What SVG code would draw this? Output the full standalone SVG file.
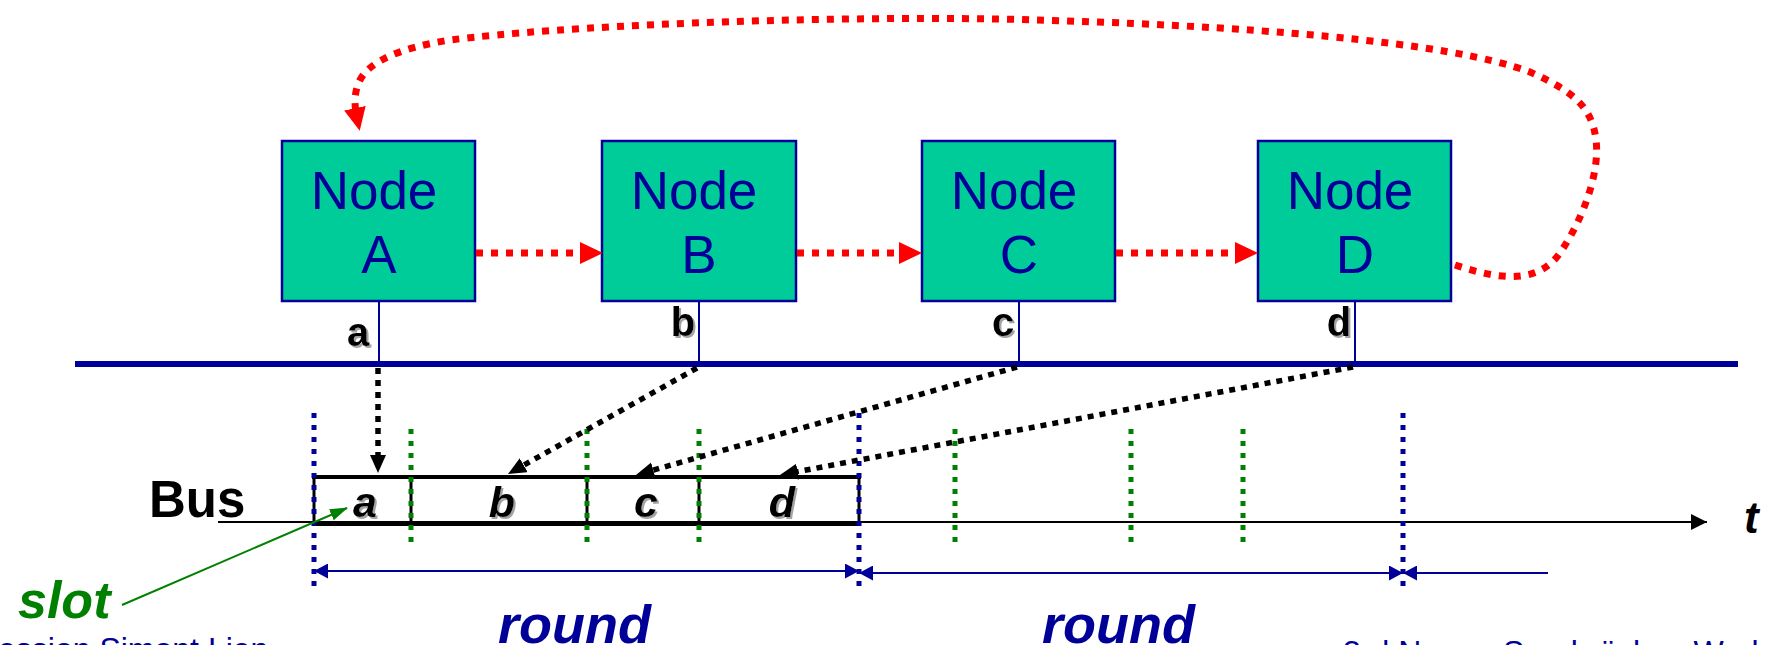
<svg xmlns="http://www.w3.org/2000/svg" width="1772" height="645" viewBox="0 0 1772 645">
<style>
.node rect{fill:#00CC99;stroke:#000099;stroke-width:2.5}
.nt{font-family:"Liberation Sans",Arial,sans-serif;font-size:53px;fill:#000099;text-anchor:middle}
.lbl{font-family:"Liberation Sans",Arial,sans-serif;font-size:40px;font-weight:bold;fill:#000;text-anchor:middle}
.sl{font-family:"Liberation Sans",Arial,sans-serif;font-size:43px;font-weight:bold;font-style:italic;fill:#000;text-anchor:middle}
.stem{stroke:#000099;stroke-width:2;fill:none}
.red{stroke:#FF0000;stroke-width:7;stroke-dasharray:7 8;fill:none}
.blk{stroke:#000;stroke-width:5.5;stroke-dasharray:6 6;fill:none}
.bdot{stroke:#000099;stroke-width:5;stroke-dasharray:5 7;fill:none}
.gdot{stroke:#008000;stroke-width:5;stroke-dasharray:5 7;fill:none}
.rnd{stroke:#000099;stroke-width:2;fill:none}
.big{font-family:"Liberation Sans",Arial,sans-serif;font-weight:bold;font-style:italic}
.foot{font-family:"Liberation Sans",Arial,sans-serif;font-size:32px;fill:#000099}
</style>
<defs>
<filter id="sh" x="-20%" y="-20%" width="150%" height="150%">
<feDropShadow dx="2" dy="2" stdDeviation="0.6" flood-color="#999999" flood-opacity="0.9"/>
</filter>
<marker id="ar" markerUnits="userSpaceOnUse" markerWidth="24" markerHeight="23" refX="10" refY="11" orient="auto" viewBox="0 0 24 23">
<path d="M0,0 L23,11 L0,22 z" fill="#FF0000"/>
</marker>
<marker id="ab" markerUnits="userSpaceOnUse" markerWidth="19" markerHeight="17" refX="8" refY="8" orient="auto" viewBox="0 0 19 17">
<path d="M0,0 L18,8 L0,16 z" fill="#000"/>
</marker>
<marker id="ag" markerUnits="userSpaceOnUse" markerWidth="19" markerHeight="13" refX="17" refY="6" orient="auto" viewBox="0 0 19 13">
<path d="M0,0 L18,6 L0,12 z" fill="#008000"/>
</marker>
<marker id="at" markerUnits="userSpaceOnUse" markerWidth="17" markerHeight="17" refX="16" refY="8" orient="auto" viewBox="0 0 17 17">
<path d="M0,0 L16,8 L0,16 z" fill="#000"/>
</marker>
<marker id="rb" markerUnits="userSpaceOnUse" markerWidth="15" markerHeight="16" refX="14" refY="7.5" orient="auto" viewBox="0 0 15 16">
<path d="M0,0 L14,7.5 L0,15 z" fill="#000099"/>
</marker>
<marker id="rs" markerUnits="userSpaceOnUse" markerWidth="15" markerHeight="16" refX="0" refY="7.5" orient="auto" viewBox="0 0 15 16">
<path d="M14,0 L0,7.5 L14,15 z" fill="#000099"/>
</marker>
</defs>
<rect x="0" y="0" width="1772" height="645" fill="#ffffff"/>

<g id="nodeA" class="node">
<rect x="282" y="141" width="193" height="160"/>
<text class="nt" x="374" y="209">Node</text>
<text class="nt" x="379" y="273">A</text>
</g>
<g id="nodeB" class="node">
<rect x="602" y="141" width="194" height="160"/>
<text class="nt" x="694" y="209">Node</text>
<text class="nt" x="699" y="273">B</text>
</g>
<g id="nodeC" class="node">
<rect x="922" y="141" width="193" height="160"/>
<text class="nt" x="1014" y="209">Node</text>
<text class="nt" x="1019" y="273">C</text>
</g>
<g id="nodeD" class="node">
<rect x="1258" y="141" width="193" height="160"/>
<text class="nt" x="1350" y="209">Node</text>
<text class="nt" x="1355" y="273">D</text>
</g>

<g id="bus">
<line x1="75" y1="364" x2="1738" y2="364" stroke="#000099" stroke-width="6"/>
</g>

<g id="labels" filter="url(#sh)">
<text class="lbl" x="358" y="346">a</text>
<text class="lbl" x="683" y="336">b</text>
<text class="lbl" x="1003" y="336">c</text>
<text class="lbl" x="1339" y="336">d</text>
</g>

<g id="timeline">
<line x1="218" y1="522" x2="1707" y2="522" stroke="#000" stroke-width="2" marker-end="url(#at)"/>
<text class="big" x="1744" y="533" font-size="44" fill="#000">t</text>
<text x="149" y="517" font-family="'Liberation Sans',Arial,sans-serif" font-size="51" font-weight="bold" fill="#000">Bus</text>
</g>

<g id="slots">
<line x1="312" y1="477" x2="861" y2="477" stroke="#000" stroke-width="4"/>
<line x1="312" y1="524" x2="861" y2="524" stroke="#000" stroke-width="4"/>
<g stroke="#000" stroke-width="3">
<line x1="314" y1="477" x2="314" y2="524"/>
<line x1="411" y1="477" x2="411" y2="524"/>
<line x1="587" y1="477" x2="587" y2="524"/>
<line x1="699" y1="477" x2="699" y2="524"/>
<line x1="859" y1="477" x2="859" y2="524"/>
</g>
<g filter="url(#sh)">
<text class="sl" x="365" y="517">a</text>
<text class="sl" x="502" y="517">b</text>
<text class="sl" x="646" y="517">c</text>
<text class="sl" x="782" y="517">d</text>
</g>
</g>

<g id="dividers">
<line class="bdot" x1="314" y1="413" x2="314" y2="590"/>
<line class="bdot" x1="859" y1="413" x2="859" y2="590"/>
<line class="bdot" x1="1403" y1="413" x2="1403" y2="590"/>
<line class="gdot" x1="411" y1="429" x2="411" y2="542"/>
<line class="gdot" x1="587" y1="429" x2="587" y2="542"/>
<line class="gdot" x1="699" y1="429" x2="699" y2="542"/>
<line class="gdot" x1="955" y1="429" x2="955" y2="542"/>
<line class="gdot" x1="1131" y1="429" x2="1131" y2="542"/>
<line class="gdot" x1="1243" y1="429" x2="1243" y2="542"/>
</g>

<g id="connectors">
<line class="stem" x1="379" y1="301" x2="379" y2="362"/>
<line class="stem" x1="699" y1="301" x2="699" y2="362"/>
<line class="stem" x1="1019" y1="301" x2="1019" y2="362"/>
<line class="stem" x1="1355" y1="301" x2="1355" y2="362"/>
<line class="red" x1="476" y1="253" x2="590" y2="253" marker-end="url(#ar)"/>
<line class="red" x1="797" y1="253" x2="909" y2="253" marker-end="url(#ar)"/>
<line class="red" x1="1116" y1="253" x2="1245" y2="253" marker-end="url(#ar)"/>
<path class="red" d="M1455,265 C1500,280 1540,285 1562,250 C1585,215 1600,170 1596,140 C1592,105 1570,90 1530,72 C1450,42 1250,25 1000,19 C800,16 560,26 450,40 C400,48 370,61 360,80 C354,92 354,104 357,118" marker-end="url(#ar)"/>
<line class="blk" x1="378" y1="368" x2="378" y2="463" marker-end="url(#ab)"/>
<line class="blk" x1="697" y1="368" x2="516.7" y2="469.1" marker-end="url(#ab)"/>
<line class="blk" x1="1017" y1="367" x2="645.6" y2="472.3" marker-end="url(#ab)"/>
<line class="blk" x1="1353" y1="367" x2="789.8" y2="473.1" marker-end="url(#ab)"/>
<line x1="122" y1="605" x2="347" y2="508" stroke="#008000" stroke-width="2" marker-end="url(#ag)"/>
<line class="rnd" x1="314" y1="571" x2="859" y2="571" marker-start="url(#rs)" marker-end="url(#rb)"/>
<line class="rnd" x1="859" y1="573" x2="1403" y2="573" marker-start="url(#rs)" marker-end="url(#rb)"/>
<line class="rnd" x1="1403" y1="573" x2="1548" y2="573" marker-start="url(#rs)"/>
</g>

<g id="texts">
<text class="big" x="18" y="618" font-size="52" fill="#008000">slot</text>
<text class="big" x="498" y="643" font-size="54" fill="#000099">round</text>
<text class="big" x="1042" y="643" font-size="54" fill="#000099">round</text>
<text class="foot" x="-2" y="660">ession Simont Lien</text>
<text class="foot" x="1343" y="663">3rd Nano - Saarbrücken Work</text>
</g>
</svg>
